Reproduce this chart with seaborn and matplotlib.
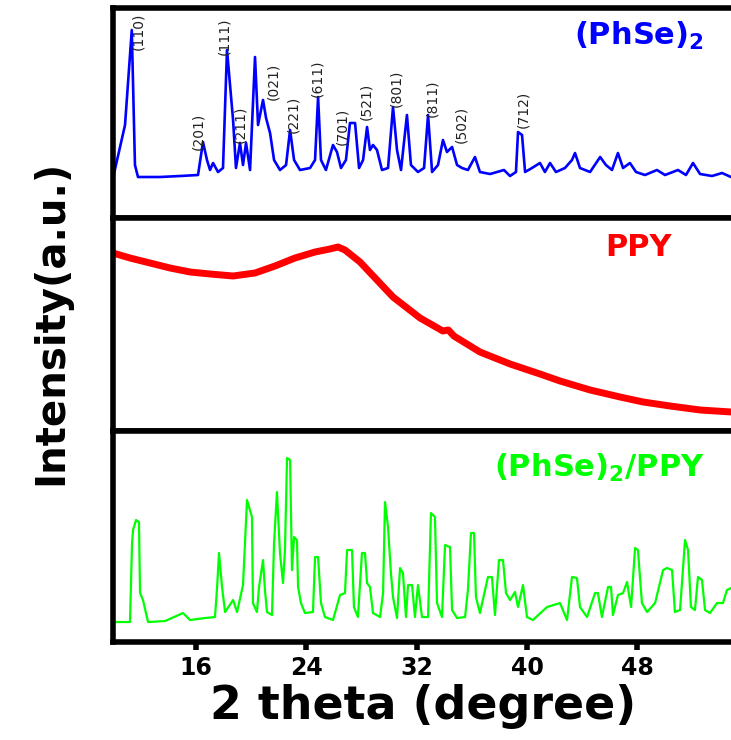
import matplotlib
matplotlib.use("Agg")
import matplotlib.pyplot as plt
import seaborn as sns
import pandas as pd

# ---------------- data ----------------
phse_theta = [10.00, 10.87, 11.36, 11.59, 11.81, 13.41, 14.86, 16.16, 16.52, 16.81,
              17.03, 17.25, 17.61, 17.97, 18.26, 18.48, 18.70, 18.91, 19.20, 19.42,
              19.64, 19.93, 20.29, 20.51, 20.87, 21.09, 21.38, 21.67, 22.10, 22.54,
              22.83, 23.12, 23.55, 24.28, 24.64, 24.86, 25.07, 25.43, 25.94, 26.23,
              26.52, 26.88, 27.17, 27.54, 27.83, 28.12, 28.41, 28.62, 28.84, 29.13,
              29.49, 29.93, 30.29, 30.58, 30.87, 31.30, 31.59, 32.10, 32.54, 32.83,
              33.12, 33.55, 33.91, 34.20, 34.57, 34.93, 35.29, 35.72, 36.23, 36.59,
              37.32, 37.83, 38.33, 38.77, 39.20, 39.35, 39.64, 39.86, 40.36, 40.94,
              41.30, 41.67, 42.10, 42.75, 43.26, 43.48, 43.84, 44.57, 45.30, 45.72,
              46.16, 46.59, 46.96, 47.46, 47.90, 48.55, 49.42, 50.00, 50.94, 51.52,
              52.03, 52.54, 53.41, 54.13, 54.78]
phse_int = [40, 93, 188, 53, 41, 41, 42, 43, 76, 58,
            48, 55, 46, 50, 168, 133, 98, 50, 75, 53,
            75, 48, 161, 93, 118, 100, 85, 58, 48, 53,
            88, 58, 48, 50, 58, 121, 58, 48, 73, 66,
            50, 58, 95, 95, 50, 58, 91, 68, 73, 68,
            48, 50, 111, 68, 48, 103, 53, 46, 50, 103,
            46, 53, 78, 66, 71, 53, 50, 48, 61, 46,
            44, 46, 48, 42, 46, 86, 83, 46, 50, 55,
            46, 55, 46, 50, 58, 65, 50, 46, 61, 53,
            48, 65, 50, 55, 46, 43, 48, 43, 48, 43,
            55, 44, 42, 45, 41]

hkl_labels = ["(110)", "(201)", "(111)", "(211)", "(021)", "(221)", "(611)",
              "(701)", "(521)", "(801)", "(811)", "(502)", "(712)"]
hkl_theta = [11.81, 16.16, 18.04, 19.20, 21.59, 23.04, 24.78,
             26.59, 28.33, 30.51, 33.12, 35.22, 39.71]
hkl_int = [168, 68, 163, 75, 118, 85, 121, 73, 98, 111, 101, 75, 90]

ppy_theta = [10.00, 11.23, 12.68, 14.13, 15.58, 17.03, 18.70, 20.29,
             21.74, 23.19, 24.64, 25.72, 26.30, 26.81, 27.90, 28.99, 30.29, 32.25,
             33.90, 34.30, 34.70, 36.59, 38.77, 40.94, 42.39, 44.57, 46.74, 48.41,
             50.36, 52.54, 54.78]
ppy_int = [178, 173, 168, 163, 159, 157, 155, 158,
           165, 173, 179, 182, 184, 181, 169, 153, 134, 113,
           100, 101, 95, 79, 67, 57, 50, 41, 34, 29,
           25, 21, 19]

comp_theta = [10.00, 11.23, 11.38, 11.45, 11.67, 11.88, 11.96, 12.17, 12.54, 13.77,
              15.07, 15.58, 16.67, 17.39, 17.54, 17.68, 17.90, 18.12, 18.70, 18.99,
              19.42, 19.71, 20.07, 20.14, 20.43, 20.58, 20.87, 21.01, 21.16, 21.52,
              21.67, 21.88, 22.10, 22.32, 22.46, 22.61, 22.83, 22.97, 23.12, 23.33,
              23.41, 23.62, 23.91, 24.49, 24.64, 24.86, 25.07, 25.36, 25.94, 26.45,
              26.81, 26.96, 27.32, 27.46, 27.75, 28.04, 28.26, 28.41, 28.62, 28.84,
              29.35, 29.57, 29.71, 29.93, 30.14, 30.29, 30.58, 30.80, 31.01, 31.23,
              31.38, 31.67, 31.88, 32.10, 32.39, 32.83, 33.04, 33.33, 33.48, 33.84,
              34.06, 34.42, 34.57, 34.93, 35.51, 35.72, 35.94, 36.16, 36.30, 36.59,
              36.96, 37.17, 37.46, 37.68, 37.97, 38.26, 38.48, 38.77, 39.13, 39.35,
              39.71, 40.00, 40.43, 41.45, 42.39, 42.90, 43.26, 43.62, 43.84, 44.35,
              44.93, 45.14, 45.43, 45.87, 46.09, 46.23, 46.59, 46.96, 47.25, 47.54,
              47.83, 48.04, 48.33, 48.70, 49.28, 49.86, 50.14, 50.51, 50.72, 51.09,
              51.45, 51.67, 51.88, 52.17, 52.39, 52.68, 52.90, 53.26, 53.77, 54.20,
              54.49, 54.78]
comp_int = [20, 20, 99, 112, 122, 120, 49, 42, 20, 21,
            29, 22, 24, 25, 54, 89, 55, 30, 42, 30,
            57, 142, 125, 39, 30, 55, 82, 52, 30, 27,
            99, 150, 89, 59, 92, 184, 182, 72, 105, 102,
            55, 39, 29, 30, 85, 85, 39, 25, 22, 47,
            49, 92, 92, 35, 25, 89, 89, 59, 55, 29,
            25, 49, 140, 115, 69, 45, 24, 74, 69, 25,
            57, 57, 25, 57, 25, 25, 129, 125, 39, 25,
            97, 95, 32, 24, 25, 52, 109, 109, 45, 29,
            52, 65, 65, 27, 82, 82, 49, 42, 50, 35,
            57, 25, 22, 35, 39, 22, 65, 64, 35, 25,
            49, 49, 25, 55, 55, 27, 47, 49, 60, 35,
            94, 92, 39, 30, 39, 72, 74, 72, 30, 32,
            102, 92, 35, 32, 65, 62, 32, 29, 39, 39,
            52, 54]

x_ticks = [16, 24, 32, 40, 48]
panel_names = [r"(PhSe)$_{\mathbf{2}}$", "PPY", r"(PhSe)$_{\mathbf{2}}$/PPY"]
colors = ["#0000ff", "#ff0000", "#00ff00"]

# ---------------- style ----------------
sns.set_theme(style="white")
plt.rcParams["font.family"] = ["DejaVu Sans"]
plt.rcParams["mathtext.fontset"] = "dejavusans"
plt.rcParams["text.color"] = "black"
plt.rcParams["axes.labelcolor"] = "black"
plt.rcParams["xtick.color"] = "black"

fig = plt.figure(figsize=(7.31, 7.40), dpi=100)
L, W = 0.1546, 0.8495
ax_top = fig.add_axes([L, 0.7054, W, 0.2838])
ax_mid = fig.add_axes([L, 0.4176, W, 0.2878])
ax_bot = fig.add_axes([L, 0.1324, W, 0.2851])
axes = [ax_top, ax_mid, ax_bot]

series = [(phse_theta, phse_int), (ppy_theta, ppy_int), (comp_theta, comp_int)]
lws = [1.9, 5.0, 1.6]
ylims = [(0, 210), (0, 213), (0, 211)]
label_pos = [(0.952, 0.945), (0.899, 0.93), (0.953, 0.90)]

for ax, (tx, iy), c, lw, yl, nm, lp in zip(axes, series, colors, lws, ylims,
                                           panel_names, label_pos):
    df = pd.DataFrame({"theta": tx, "I": iy})
    sns.lineplot(data=df, x="theta", y="I", ax=ax, color=c, lw=lw,
                 estimator=None, sort=False)
    ax.set_xlim(10, 55)
    ax.set_ylim(*yl)
    ax.set_yticks([])
    ax.set_xlabel("")
    ax.set_ylabel("")
    for s in ["left", "top", "bottom"]:
        ax.spines[s].set_visible(True)
        ax.spines[s].set_linewidth(4)
        ax.spines[s].set_color("black")
    ax.spines["right"].set_visible(False)
    ax.text(lp[0], lp[1], nm, transform=ax.transAxes, ha="right", va="top",
            fontsize=22, fontweight="bold", color=c)

for ax in [ax_top, ax_mid]:
    ax.set_xticks([])

for lab, tx, iy in zip(hkl_labels, hkl_theta, hkl_int):
    ax_top.text(tx, iy, lab, rotation=90, ha="center", va="bottom",
                fontsize=10, color="#222222")

ax_bot.set_xticks(x_ticks)
ax_bot.set_xticklabels([str(t) for t in x_ticks])
ax_bot.tick_params(axis="x", direction="out", length=6, width=4, pad=4,
                   labelsize=17, bottom=True, color="black", labelcolor="black")
for t in ax_bot.get_xticklabels():
    t.set_fontweight("bold")

ax_bot.set_xlabel("2 theta (degree)", fontsize=33, fontweight="bold", color="black")
ax_bot.xaxis.set_label_coords(0.5, -0.2)
ax_bot.xaxis.label.set_va("top")

ax_mid.set_ylabel("Intensity(a.u.)", fontweight="bold", fontsize=29, color="black")
ax_mid.yaxis.label.set(ha="center", va="center")
ax_mid.yaxis.set_label_coords(-0.1, 0.51)

fig.savefig("out.png", dpi=100)
